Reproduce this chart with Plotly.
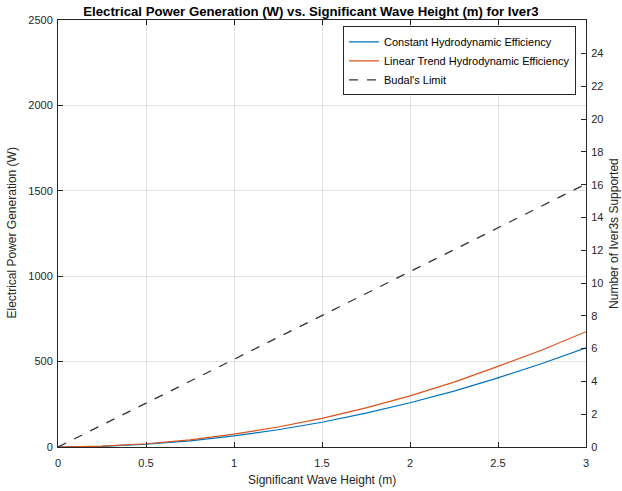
import plotly.graph_objects as go

# significant wave height (m)
wave_height = [0, 0.25, 0.5, 0.75, 1, 1.25, 1.5, 1.75, 2, 2.25, 2.5, 2.75, 3]

# electrical power (W)
constant_eff = [0, 4, 16, 36, 65, 101, 145, 198, 259, 327, 405, 489, 581]
linear_eff = [0, 5, 19, 42, 75, 117, 168, 229, 299, 380, 472, 568, 675]

budal_height = [0, 0.5, 1, 1.5, 2, 2.5, 3]
budal_limit = [0, 257, 513, 770, 1027, 1283, 1540]

left_ticks = [0, 500, 1000, 1500, 2000, 2500]
right_ticks = [0, 2, 4, 6, 8, 10, 12, 14, 16, 18, 20, 22, 24]
x_ticks = [0, 0.5, 1, 1.5, 2, 2.5, 3]
x_ticklabels = ["0", "0.5", "1", "1.5", "2", "2.5", "3"]

FONT = "Liberation Sans, Arial, sans-serif"
AX = "#262626"

fig = go.Figure()
fig.add_trace(go.Scatter(x=wave_height, y=constant_eff, mode="lines",
                         name="Constant Hydrodynamic Efficiency",
                         line=dict(color="#0072BD", width=1.2)))
fig.add_trace(go.Scatter(x=wave_height, y=linear_eff, mode="lines",
                         name="Linear Trend Hydrodynamic Efficiency",
                         line=dict(color="#D95319", width=1.2)))
fig.add_trace(go.Scatter(x=budal_height, y=budal_limit, mode="lines",
                         name="Budal's Limit",
                         line=dict(color="#333333", width=1.3, dash="dash")))
# empty trace so the right axis is drawn
fig.add_trace(go.Scatter(x=[], y=[], yaxis="y2", showlegend=False, hoverinfo="skip"))

fig.update_layout(
    width=622, height=491,
    margin=dict(l=58, r=36, t=20, b=44),
    paper_bgcolor="white", plot_bgcolor="white",
    font=dict(family=FONT, size=11, color=AX),
    title=dict(text="<b>Electrical Power Generation (W) vs. Significant Wave Height (m) for Iver3</b>",
               x=0.5, xanchor="center", y=0.976, yanchor="middle",
               font=dict(size=13.2, color="black")),
    xaxis=dict(range=[0, 3], tickvals=x_ticks, ticktext=x_ticklabels,
               showgrid=True, gridcolor="#e3e3e3", gridwidth=1,
               showline=True, linecolor=AX, linewidth=1, mirror="ticks",
               ticks="inside", ticklen=5, tickcolor=AX, zeroline=False,
               ticklabelstandoff=6, automargin=False),
    yaxis=dict(range=[0, 2500], tickvals=left_ticks,
               showgrid=True, gridcolor="#e3e3e3", gridwidth=1,
               showline=True, linecolor=AX, linewidth=1,
               ticks="inside", ticklen=5, tickcolor=AX, zeroline=False,
               ticklabelstandoff=2, automargin=False),
    yaxis2=dict(range=[0, 2500 / 96], tickvals=right_ticks, overlaying="y",
                side="right", showgrid=False, showline=True, linecolor=AX,
                linewidth=1, ticks="inside", ticklen=5, tickcolor=AX,
                zeroline=False, ticklabelstandoff=2, automargin=False),
    legend=dict(x=0.981, y=0.985, xanchor="right", yanchor="top",
                bgcolor="white", bordercolor=AX, borderwidth=1,
                font=dict(size=11, color="black"), tracegroupgap=0,
                itemwidth=30),
    showlegend=True,
)

# axis titles placed as annotations to match the reference positions
fig.add_annotation(text="Significant Wave Height (m)",
                   xref="paper", yref="paper", x=0.5, y=-0.077,
                   xanchor="center", yanchor="middle", showarrow=False,
                   font=dict(size=12, color=AX))
fig.add_annotation(text="Electrical Power Generation (W)", textangle=-90,
                   xref="paper", yref="paper", x=-0.089, y=0.5,
                   xanchor="center", yanchor="middle", showarrow=False,
                   font=dict(size=12, color=AX))
fig.add_annotation(text="Number of Iver3s Supported", textangle=-90,
                   xref="paper", yref="paper", x=1.052, y=0.5,
                   xanchor="center", yanchor="middle", showarrow=False,
                   font=dict(size=12, color=AX))

# drop the default page margin so the figure sits at the window's corner
fig.write_html("out.html", config={"displayModeBar": False},
               post_script="document.body.style.margin='0';")
